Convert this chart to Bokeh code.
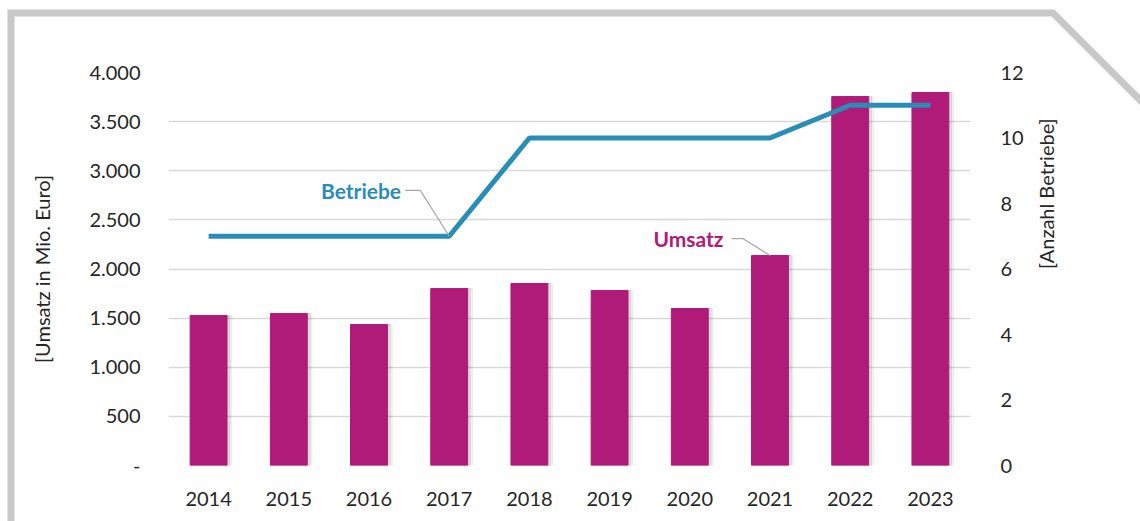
import numpy as np
from bokeh.plotting import figure
from bokeh.models import FactorRange, Range1d, LinearAxis, FixedTicker, Label
from bokeh.embed import file_html
from bokeh.resources import INLINE

years = ["2014", "2015", "2016", "2017", "2018", "2019", "2020", "2021", "2022", "2023"]
umsatz = [1527, 1547, 1435, 1801, 1852, 1781, 1598, 2137, 3755, 3796]
betriebe = [7, 7, 7, 7, 10, 10, 10, 10, 11, 11]
left_ticks = [0, 500, 1000, 1500, 2000, 2500, 3000, 3500, 4000]
left_labels = ["-", "500", "1.000", "1.500", "2.000", "2.500", "3.000", "3.500", "4.000"]
right_ticks = [0, 2, 4, 6, 8, 10, 12]

FONT = "Lato"
BAR = "#B01A78"
LINE = "#2A8DB5"
TXT = "#262626"

frame_svg = ("url(\"data:image/svg+xml;utf8,<svg xmlns='http://www.w3.org/2000/svg' width='1140' height='521'>"
             "<polyline points='11,540 11,13 1053,13 1150,110' fill='none' stroke='%23C8C8C8' stroke-width='7'/>"
             "</svg>\")")

p = figure(width=1140, height=521, x_range=FactorRange(*years, range_padding=0),
           y_range=Range1d(0, 4000), output_backend="svg", toolbar_location=None,
           min_border_left=168, min_border_right=170, min_border_top=72, min_border_bottom=56)
p.styles = {"background-image": frame_svg, "background-repeat": "no-repeat"}
p.border_fill_color = None
p.background_fill_color = None
p.extra_y_ranges = {"right": Range1d(0, 12)}
p.outline_line_color = None
p.xgrid.grid_line_color = None
p.ygrid.grid_line_color = "#D9D9D9"
p.ygrid.grid_line_width = 1.5

# bar shadows
xs = np.arange(len(years)) + 0.5
p.vbar(x=xs + 0.06, top=umsatz, width=0.46, color="#000000", alpha=0.05)
p.vbar(x=xs + 0.035, top=umsatz, width=0.46, color="#000000", alpha=0.08)
p.vbar(x=years, top=umsatz, width=0.46, color=BAR)

p.line(x=years, y=betriebe, y_range_name="right", line_color=LINE, line_width=5)

def style_axis(a, standoff):
    a.axis_line_color = None
    a.major_tick_line_color = None
    a.minor_tick_line_color = None
    a.major_label_standoff = standoff
    a.major_label_text_font = FONT
    a.major_label_text_font_size = "20px"
    a.major_label_text_color = TXT
    a.axis_label_text_font = FONT
    a.axis_label_text_font_size = "20px"
    a.axis_label_text_font_style = "normal"
    a.axis_label_text_color = TXT

ax = p.yaxis[0]
ax.ticker = FixedTicker(ticks=left_ticks)
ax.major_label_overrides = {t: l for t, l in zip(left_ticks, left_labels)}
style_axis(ax, 22)
ax.axis_label = "[Umsatz in Mio. Euro]"
ax.axis_label_standoff = 32

rax = LinearAxis(y_range_name="right", ticker=FixedTicker(ticks=right_ticks))
style_axis(rax, 24)
rax.axis_label = "[Anzahl Betriebe]"
rax.axis_label_standoff = 19
rax.axis_label_orientation = np.pi / 2
p.add_layout(rax, "right")

bx = p.xaxis[0]
style_axis(bx, 20)

# series annotations
i17 = years.index("2017") + 0.5
p.line(x=[i17 - 0.55, i17 - 0.36, i17], y=[8.4, 8.4, betriebe[3]], y_range_name="right",
       line_color="#A6A6A6", line_width=1.2)
p.add_layout(Label(x=i17 - 0.6, y=8.4, y_range_name="right", text="Betriebe", text_align="right",
                   text_baseline="middle", text_font=FONT, text_font_style="bold",
                   text_font_size="21px", text_color=LINE))
i21 = years.index("2021") + 0.5
p.line(x=[i21 - 0.48, i21 - 0.34, i21], y=[2310, 2310, umsatz[7]],
       line_color="#A6A6A6", line_width=1.2)
p.add_layout(Label(x=i21 - 0.58, y=2310, text="Umsatz", text_align="right",
                   text_baseline="middle", text_font=FONT, text_font_style="bold",
                   text_font_size="21px", text_color=BAR))

open("out.html", "w").write(file_html(p, INLINE))
